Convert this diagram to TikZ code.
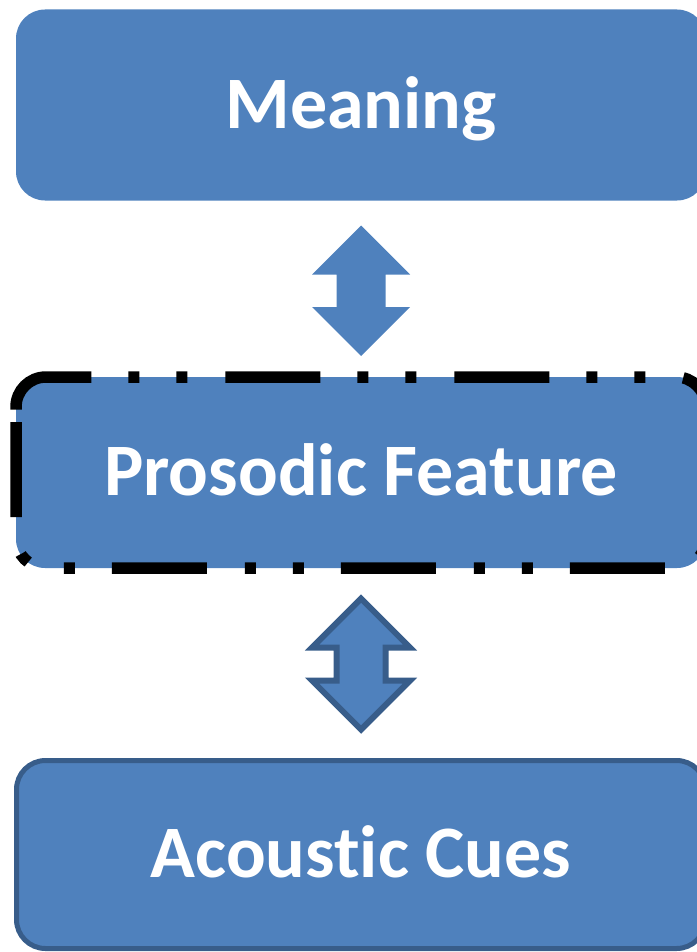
\documentclass[tikz,border=0pt]{standalone}
\usepackage{fontspec}
\setmainfont{Carlito}[Ligatures=NoCommon]
\usetikzlibrary{calc}
\definecolor{boxblue}{HTML}{4F81BD}
\definecolor{edgeblue}{HTML}{385D8A}

% Two-headed block arrow between two tip points
\newcommand\twowayarrow[3][]{%
  \path[#1] (#2) -- ([shift={(49pt,-49pt)}]#2) -- ([shift={(24.5pt,-49pt)}]#2)
    -- ([shift={(24.5pt,49pt)}]#3) -- ([shift={(49pt,49pt)}]#3) -- (#3)
    -- ([shift={(-49pt,49pt)}]#3) -- ([shift={(-24.5pt,49pt)}]#3)
    -- ([shift={(-24.5pt,-49pt)}]#2) -- ([shift={(-49pt,-49pt)}]#2) -- cycle;}

\begin{document}
\begin{tikzpicture}[x=1pt,y=-1pt,
  box/.style={fill=boxblue, rounded corners=29pt, minimum width=690pt,
    minimum height=191pt, inner sep=0pt, outer sep=0pt, text=white,
    font=\bfseries\fontsize{74}{80}\selectfont, text height=46.6pt, text depth=0pt},
  plainarrow/.style={fill=boxblue},
  edgedarrow/.style={fill=boxblue, draw=edgeblue, line width=6pt},
  longdashdotdot/.style={draw=black, line width=11.5pt, rounded corners=30pt,
    dash pattern=on 95pt off 38pt on 11pt off 37pt on 11pt off 37pt}]
\useasboundingbox (0,0) rectangle (696,952);

% boxes
\node[box] (meaning) at (361,105) {Meaning};
\node[box] (prosodic) at (361,472.5) {Prosodic Feature};
\node[box, draw=edgeblue, line width=5pt, minimum width=689pt, minimum height=188pt]
  (acoustic) at (361,854.5) {Acoustic Cues};

% dash-dot-dot outline around the middle box, open at its starting point
\coordinate (dstart) at ([yshift=-45pt]prosodic.north west);
\draw[longdashdotdot] (dstart) -- (prosodic.south west)
  -- (prosodic.south east) -- (prosodic.north east) -- (prosodic.north west) -- (dstart);

% two-way arrows
\coordinate (a1top) at ([yshift=-25pt]meaning.south);
\coordinate (a1bot) at ([yshift=21pt]prosodic.north);
\coordinate (a2top) at ([yshift=-30.5pt]prosodic.south);
\coordinate (a2bot) at ([yshift=31pt]acoustic.north);
\twowayarrow[plainarrow]{a1top}{a1bot}
\twowayarrow[edgedarrow]{a2top}{a2bot}
\end{tikzpicture}
\end{document}
